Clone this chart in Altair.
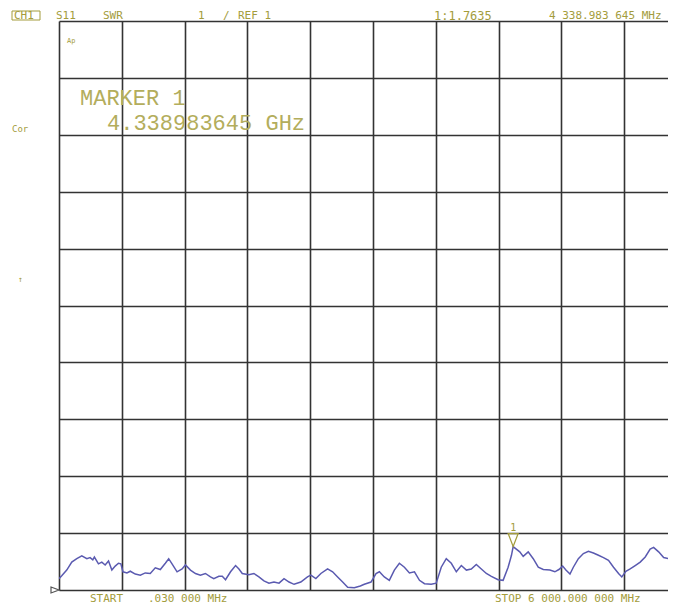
import altair as alt
import pandas as pd

# S11 SWR trace (frequency in MHz, SWR)
freq_mhz = [0.03, 26, 74, 122, 170, 218, 266, 297, 323, 338, 377, 409, 441, 473, 505, 537, 568, 591,
            611, 649, 681, 729, 777, 824, 872, 920, 968, 1016, 1048, 1080, 1128, 1176, 1208, 1256, 1304,
            1351, 1399, 1447, 1479, 1527, 1560, 1591, 1639, 1687, 1719, 1751, 1814, 1862, 1910, 1958,
            2006, 2054, 2102, 2150, 2198, 2246, 2310, 2374, 2406, 2454, 2502, 2566, 2614, 2662, 2710,
            2758, 2821, 2879, 2917, 2981, 3029, 3061, 3108, 3156, 3204, 3252, 3300, 3348, 3396, 3444,
            3492, 3556, 3604, 3652, 3700, 3748, 3796, 3844, 3892, 3939, 3987, 4035, 4083, 4131, 4195,
            4243, 4291, 4323, 4339, 4402, 4435, 4483, 4531, 4579, 4627, 4690, 4738, 4776, 4812, 4843,
            4882, 4914, 4962, 5010, 5058, 5106, 5154, 5202, 5250, 5298, 5346, 5377, 5416, 5457, 5505,
            5553, 5601, 5648, 5681, 5729, 5777, 5825, 5873, 5914]
swr = [1.20, 1.25, 1.35, 1.49, 1.55, 1.60, 1.55, 1.57, 1.53, 1.58, 1.46, 1.49, 1.44, 1.51, 1.35, 1.42,
       1.47, 1.46, 1.32, 1.30, 1.33, 1.28, 1.26, 1.30, 1.29, 1.39, 1.36, 1.47, 1.55, 1.46, 1.32, 1.37,
       1.44, 1.35, 1.29, 1.26, 1.29, 1.23, 1.20, 1.24, 1.24, 1.18, 1.32, 1.43, 1.37, 1.29, 1.27, 1.29,
       1.23, 1.16, 1.12, 1.14, 1.12, 1.20, 1.14, 1.10, 1.14, 1.23, 1.26, 1.20, 1.29, 1.37, 1.32, 1.23,
       1.14, 1.05, 1.04, 1.07, 1.10, 1.14, 1.29, 1.32, 1.23, 1.17, 1.35, 1.47, 1.40, 1.30, 1.32, 1.17,
       1.11, 1.10, 1.12, 1.40, 1.55, 1.47, 1.32, 1.43, 1.35, 1.37, 1.45, 1.37, 1.29, 1.24, 1.18, 1.17,
       1.40, 1.61, 1.7635, 1.67, 1.59, 1.67, 1.55, 1.40, 1.36, 1.35, 1.32, 1.36, 1.42, 1.35, 1.28, 1.40,
       1.55, 1.64, 1.68, 1.65, 1.61, 1.57, 1.52, 1.40, 1.29, 1.23, 1.33, 1.37, 1.43, 1.49, 1.58, 1.72,
       1.75, 1.67, 1.57, 1.55, 1.57, 1.53]

marker_freq = [4338.983645]
marker_swr = [1.7635]

grid_freq = [0, 600, 1200, 1800, 2400, 3000, 3600, 4200, 4800, 5400]
grid_swr = [1, 2, 3, 4, 5, 6, 7, 8, 9, 10, 11]

OLIVE = "#a39c3c"
OLIVE_LIGHT = "#b3ad5c"
GRID = "#333333"
TRACE = "#5a5ab0"
MONO = "DejaVu Sans Mono"

# 10 divisions of 600 MHz span 628 px; only 609 px fit in the window
W, H = 609, 569
xscale = alt.Scale(domain=[0, 6000 * 609 / 628], nice=False, zero=False)
yscale = alt.Scale(domain=[1, 11], nice=False, zero=False)


def ax(vals):
    return alt.Axis(values=vals, grid=True, labels=False, ticks=False, domain=False, title=None,
                    gridColor=GRID, gridWidth=1.6, gridOpacity=1)


trace_df = pd.DataFrame({"freq": freq_mhz, "swr": swr})
trace = alt.Chart(trace_df).mark_line(color=TRACE, strokeWidth=1.5, clip=True).encode(
    x=alt.X("freq:Q", scale=xscale, axis=ax(grid_freq)),
    y=alt.Y("swr:Q", scale=yscale, axis=ax(grid_swr)),
)

mk_df = pd.DataFrame({"freq": marker_freq, "swr": marker_swr})
marker = alt.Chart(mk_df).mark_point(
    shape="M -1 -2.6 L 1 -2.6 L 0 0 Z", size=100, filled=False, stroke=OLIVE,
    strokeWidth=1.2, opacity=1
).encode(x=alt.X("freq:Q", scale=xscale), y=alt.Y("swr:Q", scale=yscale))
marker_lbl = alt.Chart(mk_df).mark_text(
    text="1", font=MONO, fontSize=10, color=OLIVE, dy=-19, baseline="middle", align="center"
).encode(x=alt.X("freq:Q", scale=xscale), y=alt.Y("swr:Q", scale=yscale))

ref_df = pd.DataFrame({"freq": [0.03], "swr": [1]})
ref_mark = alt.Chart(ref_df).mark_point(
    shape="M -2 -0.75 L 0 0 L -2 0.75 Z", size=64, filled=False, stroke="#555555",
    strokeWidth=1.2, opacity=1
).encode(x=alt.X("freq:Q", scale=xscale), y=alt.Y("swr:Q", scale=yscale))

one = pd.DataFrame({"a": [0]})


def label(txt, x, y, size=12, font=MONO, color=OLIVE):
    return alt.Chart(one).mark_text(
        text=txt, font=font, fontSize=size, color=color, align="left", baseline="middle"
    ).encode(x=alt.value(x), y=alt.value(y))


texts = [
    label("CH1", -45, -5, 11),
    label("S11", -3, -5, 11),
    label("SWR", 44, -5, 11),
    label("1", 139, -5, 11),
    label("/", 164, -5, 11),
    label("REF 1", 179, -5, 11),
    label("1:1.7635", 375, -5, 12),
    label("4 338.983 645 MHz", 490, -5, 11),
    label("Ap", 8, 20, 7),
    label("Cor", -47, 108, 9),
    label("↑", -41, 259, 8),
    label("MARKER 1", 21, 77, 22, "Liberation Mono", OLIVE_LIGHT),
    label("4.338983645 GHz", 48, 102, 22, "Liberation Mono", OLIVE_LIGHT),
    label("START", 31, 578, 11),
    label(".030 000 MHz", 89, 578, 11),
    label("STOP 6 000.000 000 MHz", 436, 578, 11),
]

ch_box = alt.Chart(one).mark_rect(fillOpacity=0, stroke=OLIVE, strokeWidth=1).encode(
    x=alt.value(-47), x2=alt.value(-19), y=alt.value(-10), y2=alt.value(-1)
)

chart = alt.layer(trace, marker, marker_lbl, ref_mark, ch_box, *texts).properties(
    width=W, height=H,
    autosize=alt.AutoSizeParams(type="none"),
    padding={"left": 51, "top": 13, "right": 0, "bottom": 14},
    background="white",
).configure_view(strokeWidth=0)

chart.save("out.html", embed_options={"renderer": "svg", "actions": False})
